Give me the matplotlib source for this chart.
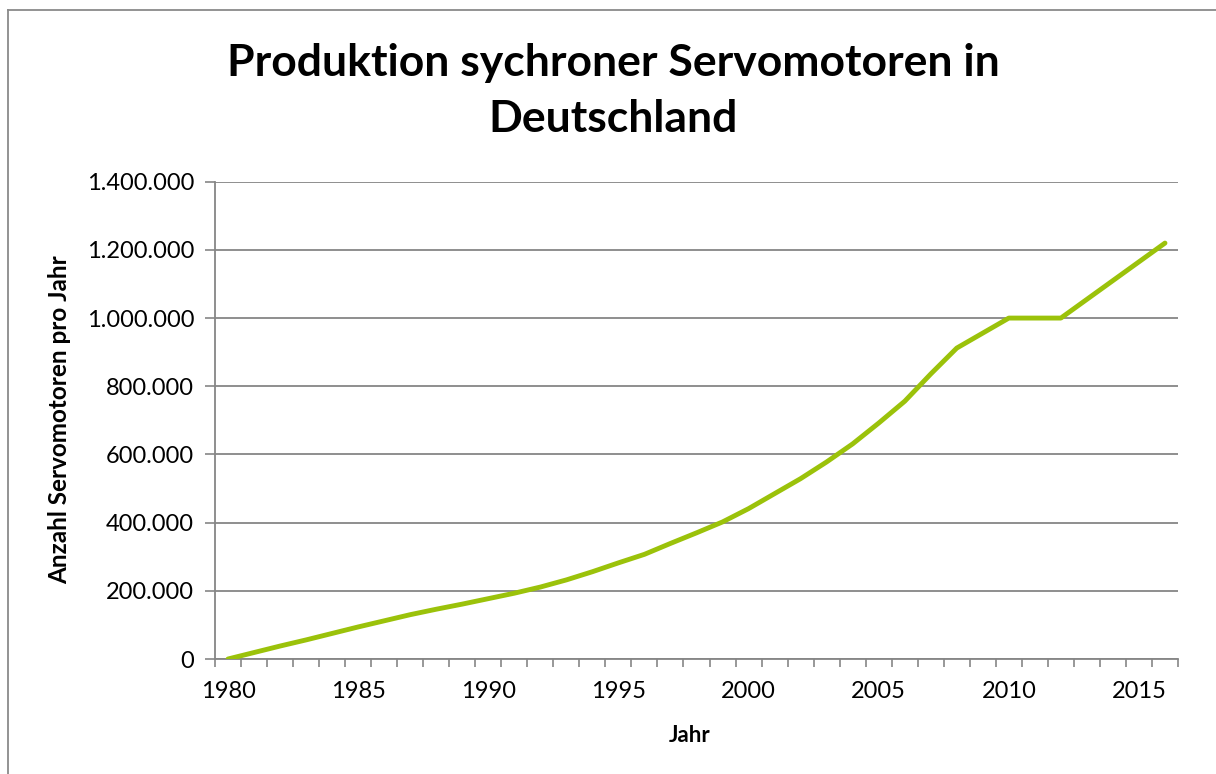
import numpy as np
import matplotlib
matplotlib.use("Agg")
import matplotlib.pyplot as plt
from matplotlib.ticker import FuncFormatter, FixedLocator
from matplotlib.lines import Line2D

plt.rcParams['font.family'] = ['Lato', 'DejaVu Sans']

# Jahre und Produktion (Stueck pro Jahr)
years = list(range(1980, 2017))
produktion = [0, 19000, 38000, 56000, 75000, 94000, 112000, 130000, 146000,
              161000, 177000, 193000, 211000, 232000, 256000, 282000, 307000,
              339000, 370000, 402000, 441000, 485000, 529000, 578000, 631000,
              692000, 756000, 836000, 912000, 956000, 1000000, 1000000,
              1000000, 1055000, 1110000, 1165000, 1220000]
y_ticks = [0, 200000, 400000, 600000, 800000, 1000000, 1200000, 1400000]

grey = "#868686"

fig = plt.figure(figsize=(12.16, 7.74), dpi=100)
ax = fig.add_axes([215/1216, 1 - 659/774, (1178 - 215)/1216, (659 - 181.7)/774])

idx = np.arange(len(years))
ax.plot(idx, produktion, color="#9bc20a", lw=3.5, solid_capstyle="round",
        solid_joinstyle="round", zorder=3)

ax.set_xlim(-0.5, len(years) - 0.5)
ax.set_ylim(0, 1400000)

# Kategorieachse: Striche zwischen den Jahren, Beschriftung alle 5 Jahre
lab_pos = [i for i, yr in enumerate(years) if yr % 5 == 0]
ax.xaxis.set_major_locator(FixedLocator(lab_pos))
ax.set_xticklabels([str(years[i]) for i in lab_pos])
ax.xaxis.set_minor_locator(FixedLocator(np.arange(-0.5, len(years), 1.0)))
ax.tick_params(axis="x", which="major", length=0, pad=16, labelsize=17)
ax.tick_params(axis="x", which="minor", length=6, width=1.2, color=grey,
               direction="out")

ax.set_yticks(y_ticks)
ax.yaxis.set_major_formatter(FuncFormatter(lambda v, p: f"{int(v):,}".replace(",", ".")))
ax.tick_params(axis="y", length=7, width=1.2, color=grey, labelsize=17, pad=8)

ax.grid(axis="y", color=grey, lw=1.3)
ax.set_axisbelow(True)
for s in ["top", "right"]:
    ax.spines[s].set_visible(False)
for s in ["left", "bottom"]:
    ax.spines[s].set_color(grey)
    ax.spines[s].set_linewidth(1.3)

fig.text(690/1216, 1 - 735/774, "Jahr", fontsize=16, fontweight="bold",
         ha="center", va="center")
fig.text(60/1216, 1 - 420/774, "Anzahl Servomotoren pro Jahr", rotation=90,
         fontsize=17.5, fontweight="bold", ha="center", va="center")

fig.text(613/1216, 1 - 91/774, "Produktion sychroner Servomotoren in\nDeutschland",
         fontsize=32, fontweight="bold", ha="center", va="center",
         linespacing=1.5)

# Rahmen
fig.add_artist(Line2D([7.5/1216, 7.5/1216], [0, 1 - 10/774], color="#8a8a8a", lw=1.3))
fig.add_artist(Line2D([7.5/1216, 1], [1 - 10/774, 1 - 10/774], color="#8a8a8a", lw=1.3))

fig.savefig("out.png", dpi=100)
